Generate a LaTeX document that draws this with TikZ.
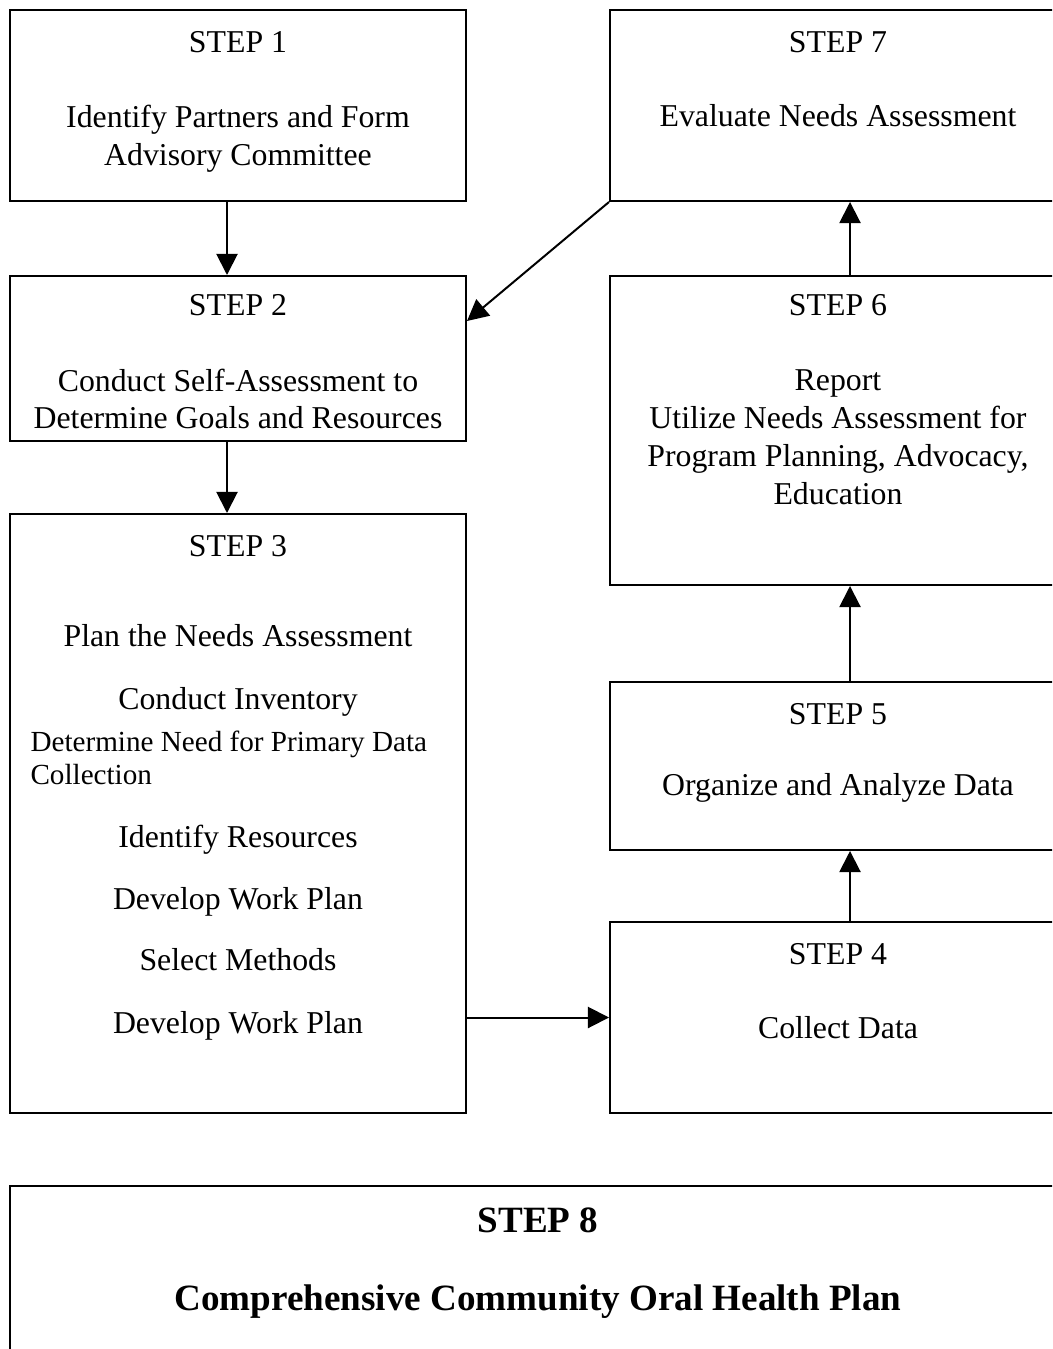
\documentclass[tikz,border=0pt]{standalone}
\usepackage{fontspec}
\setmainfont{Liberation Serif}
\usetikzlibrary{arrows.meta,calc,fit}

\begin{document}
\begin{tikzpicture}[x=0.3774pt,y=-0.3774pt,
  stepbox/.style={draw,line width=0.75pt,inner sep=0pt},
  arr/.style={line width=0.75pt,-{Triangle[length=8pt,width=8pt]}},
  txt/.style={font=\fontsize{12}{14.3}\selectfont,align=center,inner sep=0pt}]
\clip (0,0) rectangle (1052,1349);

% boxes
\node[stepbox,fit={(10,10) (466,201)}] (s1) {};
\node[stepbox,fit={(10,276) (466,441)}] (s2) {};
\node[stepbox,fit={(10,514) (466,1113)}] (s3) {};
\node[stepbox,fit={(610,922) (1066,1113)}] (s4) {};
\node[stepbox,fit={(610,682) (1066,850)}] (s5) {};
\node[stepbox,fit={(610,276) (1066,585)}] (s6) {};
\node[stepbox,fit={(610,10) (1066,201)}] (s7) {};
\node[stepbox,fit={(10,1186) (1066,1400)}] (s8) {};

% texts
\node[txt] (s1h) at (238,42) {STEP 1};
\node[txt] (s1t) at (238,139) {Identify Partners and Form\\Advisory Committee};
\node[txt] (s2h) at (238,305) {STEP 2};
\node[txt] (s2t) at (238,399) {Conduct Self-Assessment to\\Determine Goals and Resources};
\node[txt] (s3h) at (238,546) {STEP 3};
\node[txt] (s3a) at (238,636) {Plan the Needs Assessment};
\node[txt] (s3b) at (238,702) {Conduct Inventory};
\node[txt,font=\fontsize{11}{12.5}\selectfont,align=left,anchor=west] (s3c) at (30,758) {Determine Need for Primary Data\\Collection};
\node[txt] (s3d) at (238,840) {Identify Resources};
\node[txt] (s3e) at (238,902) {Develop Work Plan};
\node[txt] (s3f) at (238,960) {Select Methods};
\node[txt] (s3g) at (238,1026) {Develop Work Plan};
\node[txt] (s4h) at (838,954) {STEP 4};
\node[txt] (s4t) at (838,1028) {Collect Data};
\node[txt] (s5h) at (838,714) {STEP 5};
\node[txt] (s5t) at (838,788) {Organize and Analyze Data};
\node[txt] (s6h) at (838,305) {STEP 6};
\node[txt] (s6t) at (838,437) {Report\\Utilize Needs Assessment for\\Program Planning, Advocacy,\\Education};
\node[txt] (s7h) at (838,42) {STEP 7};
\node[txt] (s7t) at (838,116) {Evaluate Needs Assessment};
\node[txt,font=\fontsize{14}{17}\selectfont\bfseries] (s8h) at (538,1220) {STEP 8};
\node[txt,font=\fontsize{14}{17}\selectfont\bfseries] (s8t) at (538,1302) {Comprehensive Community Oral Health Plan};

% arrows
\draw[arr] ($(s1.south)+(-11,0)$) -- ($(s2.north)+(-11,0)$);
\draw[arr] ($(s2.north)+(-11,0)$) ++(0,165) -- ($(s3.north)+(-11,0)$);
\draw[arr] (s3.east |- s4.west) -- (s4.west);
\draw[arr] ($(s4.north)+(12,0)$) -- ($(s5.south)+(12,0)$);
\draw[arr] ($(s5.north)+(12,0)$) -- ($(s6.south)+(12,0)$);
\draw[arr] ($(s6.north)+(12,0)$) -- ($(s7.south)+(12,0)$);
\draw[arr] (s7.south west) -- ($(s2.north east)+(0,46)$);
\end{tikzpicture}
\end{document}
